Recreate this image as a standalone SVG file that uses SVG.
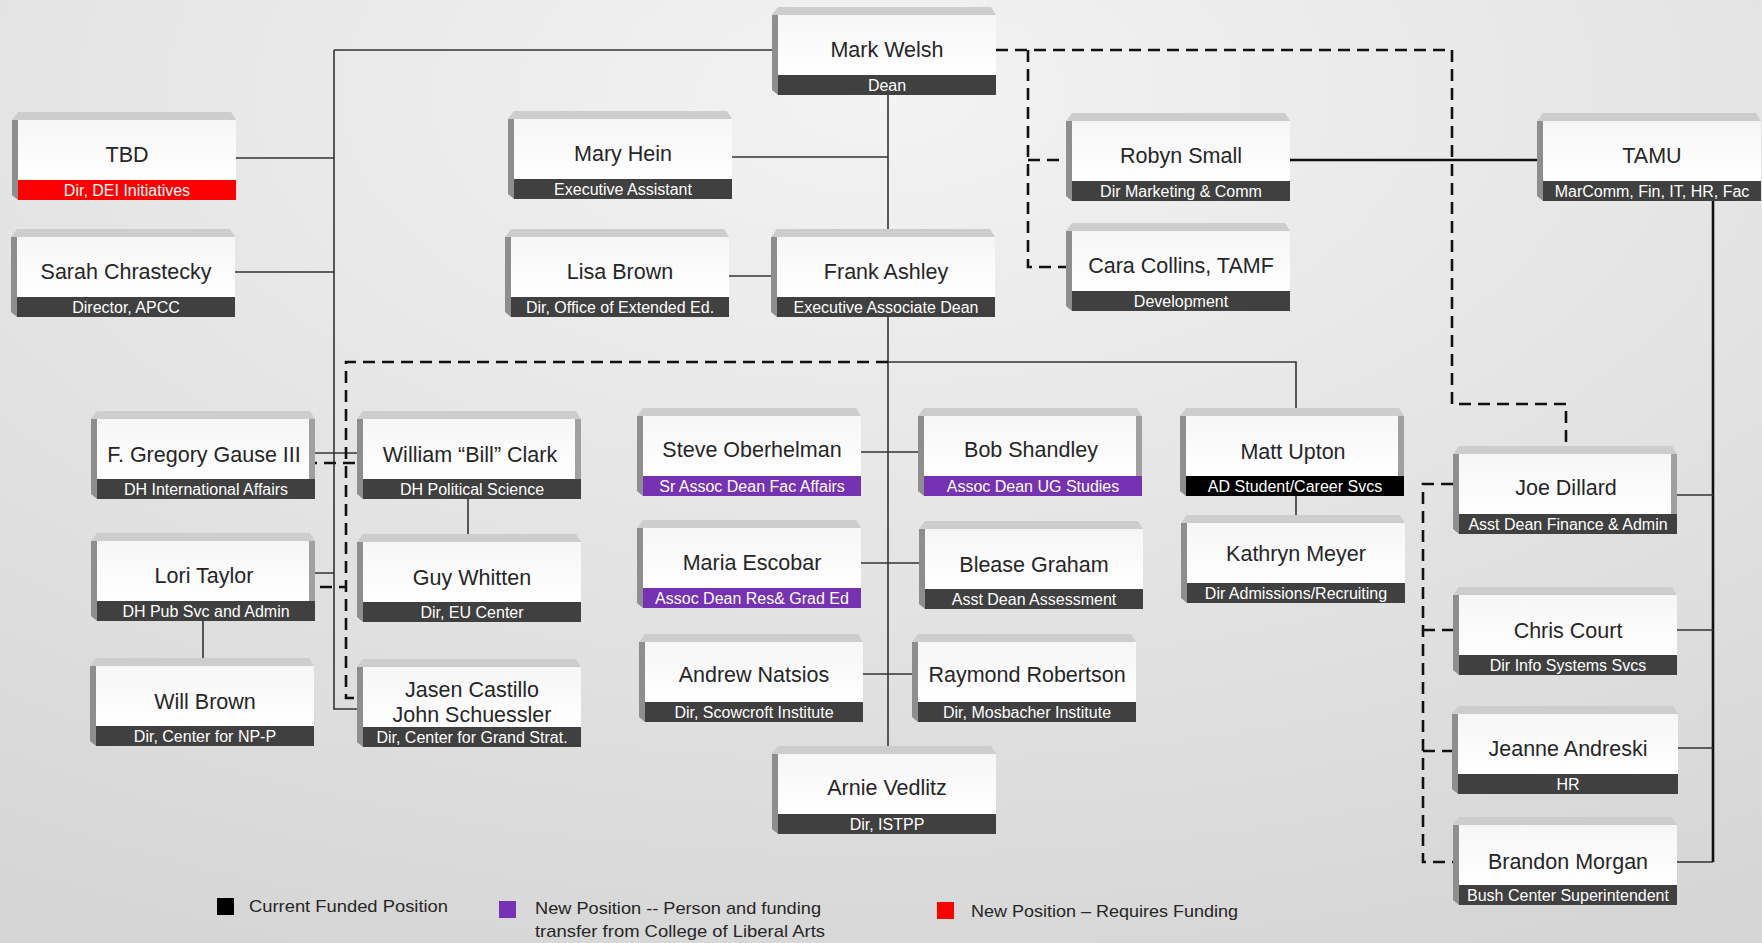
<svg xmlns="http://www.w3.org/2000/svg" width="1762" height="943" viewBox="0 0 1762 943">
<defs>
<radialGradient id="bg" cx="0.5" cy="0.1" r="1.0">
<stop offset="0" stop-color="#f3f3f3"/>
<stop offset="1" stop-color="#d5d5d5"/>
</radialGradient>
<linearGradient id="face" x1="0" y1="0" x2="0" y2="1">
<stop offset="0" stop-color="#f6f6f6"/>
<stop offset="1" stop-color="#ffffff"/>
</linearGradient>
</defs>
<style>
.bt{fill:#cdcdcd}
.bl{fill:#8e8e8e}
.br{fill:#a0a0a0}
.face{fill:url(#face)}
.lab{fill:#404040}
.lab.red{fill:#ff0000}
.lab.pur{fill:#7532b3}
.lab.blk{fill:#000000}
.nm{font-family:"Liberation Sans",Arial,sans-serif;font-size:21.5px;fill:#262626;text-anchor:middle}
.lb{font-family:"Liberation Sans",Arial,sans-serif;font-size:16px;fill:#ffffff;text-anchor:middle}
.lg{font-family:"Liberation Sans",Arial,sans-serif;font-size:17px;fill:#262626}
.s{fill:none;stroke:#333;stroke-width:1.6}
.t{fill:none;stroke:#111;stroke-width:2.6}
.d{fill:none;stroke:#111;stroke-width:2.6;stroke-dasharray:12 7}
</style>
<rect width="1762" height="943" fill="url(#bg)"/>

<g id="connectors">
<path class="s" d="M334 50 H772 M334 50 V709 H357"/>
<path class="s" d="M235 158 H334 M234 272 H334"/>
<path class="s" d="M888 94 V229 M731 157 H888 M729 276 H771"/>
<path class="s" d="M888 317 V746 M888 362 H1296 V408 M1296 496 V515"/>
<path class="s" d="M860 452 H918 M860 563 H919 M861 674 H912"/>
<path class="s" d="M313 453 H357 M314 573 H334 M203 621 V658 M468 499 V534"/>
<path class="t" d="M1289 160 H1537 M1713 201 V862"/>
<path class="s" d="M1674 495 H1713 M1674 630 H1713 M1678 748 H1713 M1674 862 H1713"/>
<path class="d" d="M996 50 H1452 V404 H1566 V447"/>
<path class="d" d="M1028 50 V267 H1066 M1028 160 H1066"/>
<path class="d" d="M888 362 H346 V698 H357"/>
<path class="d" d="M305 463 H357 M301 587 H346"/>
<path class="d" d="M1453 484 H1423 V862 H1453 M1423 630 H1453 M1423 751 H1453"/>
</g>

<g id="n-mark-welsh" transform="translate(772,7)">
<path class="bt" d="M0 8 L6 0 H219 L224 8 Z"/><path class="bl" d="M0 8 L6 8 V88 L0 83 Z"/>
<rect class="face" x="6" y="8" width="218" height="60"/><rect class="lab" x="6" y="68" width="218" height="20"/>
<text class="nm" x="115" y="50">Mark Welsh</text><text class="lb" x="115" y="84">Dean</text>
</g>

<g id="n-tbd" transform="translate(12,112)">
<path class="bt" d="M0 8 L6 0 H219 L224 8 Z"/><path class="bl" d="M0 8 L6 8 V88 L0 83 Z"/>
<rect class="face" x="6" y="8" width="218" height="60"/><rect class="lab red" x="6" y="68" width="218" height="20"/>
<text class="nm" x="115" y="50">TBD</text><text class="lb" x="115" y="84">Dir, DEI Initiatives</text>
</g>

<g id="n-sarah-chrastecky" transform="translate(11,229)">
<path class="bt" d="M0 8 L6 0 H219 L224 8 Z"/><path class="bl" d="M0 8 L6 8 V88 L0 83 Z"/>
<rect class="face" x="6" y="8" width="218" height="60"/><rect class="lab" x="6" y="68" width="218" height="20"/>
<text class="nm" x="115" y="50">Sarah Chrastecky</text><text class="lb" x="115" y="84">Director, APCC</text>
</g>

<g id="n-mary-hein" transform="translate(508,111)">
<path class="bt" d="M0 8 L6 0 H219 L224 8 Z"/><path class="bl" d="M0 8 L6 8 V88 L0 83 Z"/>
<rect class="face" x="6" y="8" width="218" height="60"/><rect class="lab" x="6" y="68" width="218" height="20"/>
<text class="nm" x="115" y="50">Mary Hein</text><text class="lb" x="115" y="84">Executive Assistant</text>
</g>

<g id="n-lisa-brown" transform="translate(505,229)">
<path class="bt" d="M0 8 L6 0 H219 L224 8 Z"/><path class="bl" d="M0 8 L6 8 V88 L0 83 Z"/>
<rect class="face" x="6" y="8" width="218" height="60"/><rect class="lab" x="6" y="68" width="218" height="20"/>
<text class="nm" x="115" y="50">Lisa Brown</text><text class="lb" x="115" y="84">Dir, Office of Extended Ed.</text>
</g>

<g id="n-frank-ashley" transform="translate(771,229)">
<path class="bt" d="M0 8 L6 0 H219 L224 8 Z"/><path class="bl" d="M0 8 L6 8 V88 L0 83 Z"/>
<rect class="face" x="6" y="8" width="218" height="60"/><rect class="lab" x="6" y="68" width="218" height="20"/>
<text class="nm" x="115" y="50">Frank Ashley</text><text class="lb" x="115" y="84">Executive Associate Dean</text>
</g>

<g id="n-robyn-small" transform="translate(1066,113)">
<path class="bt" d="M0 8 L6 0 H219 L224 8 Z"/><path class="bl" d="M0 8 L6 8 V88 L0 83 Z"/>
<rect class="face" x="6" y="8" width="218" height="60"/><rect class="lab" x="6" y="68" width="218" height="20"/>
<text class="nm" x="115" y="50">Robyn Small</text><text class="lb" x="115" y="84">Dir Marketing &amp; Comm</text>
</g>

<g id="n-cara-collins" transform="translate(1066,223)">
<path class="bt" d="M0 8 L6 0 H219 L224 8 Z"/><path class="bl" d="M0 8 L6 8 V88 L0 83 Z"/>
<rect class="face" x="6" y="8" width="218" height="60"/><rect class="lab" x="6" y="68" width="218" height="20"/>
<text class="nm" x="115" y="50">Cara Collins, TAMF</text><text class="lb" x="115" y="84">Development</text>
</g>

<g id="n-tamu" transform="translate(1537,113)">
<path class="bt" d="M0 8 L6 0 H219 L224 8 Z"/><path class="bl" d="M0 8 L6 8 V88 L0 83 Z"/>
<rect class="face" x="6" y="8" width="218" height="60"/><rect class="lab" x="6" y="68" width="218" height="20"/>
<text class="nm" x="115" y="50">TAMU</text><text class="lb" x="115" y="84">MarComm, Fin, IT, HR, Fac</text>
</g>

<g id="n-gregory-gause" transform="translate(91,411)">
<path class="bt" d="M0 8 L6 0 H219 L224 8 Z"/><path class="bl" d="M0 8 L6 8 V88 L0 83 Z"/>
<rect class="face" x="6" y="8" width="218" height="60"/><rect class="br" x="218" y="8" width="6" height="60"/><rect class="lab" x="6" y="68" width="218" height="20"/>
<text class="nm" x="113" y="51">F. Gregory Gause III</text><text class="lb" x="115" y="84">DH International Affairs</text>
</g>

<g id="n-bill-clark" transform="translate(357,411)">
<path class="bt" d="M0 8 L6 0 H219 L224 8 Z"/><path class="bl" d="M0 8 L6 8 V88 L0 83 Z"/>
<rect class="face" x="6" y="8" width="218" height="60"/><rect class="br" x="218" y="8" width="6" height="60"/><rect class="lab" x="6" y="68" width="218" height="20"/>
<text class="nm" x="113" y="51">William “Bill” Clark</text><text class="lb" x="115" y="84">DH Political Science</text>
</g>

<g id="n-lori-taylor" transform="translate(91,533)">
<path class="bt" d="M0 8 L6 0 H219 L224 8 Z"/><path class="bl" d="M0 8 L6 8 V88 L0 83 Z"/>
<rect class="face" x="6" y="8" width="218" height="60"/><rect class="br" x="218" y="8" width="6" height="60"/><rect class="lab" x="6" y="68" width="218" height="20"/>
<text class="nm" x="113" y="50">Lori Taylor</text><text class="lb" x="115" y="84">DH Pub Svc and Admin</text>
</g>

<g id="n-guy-whitten" transform="translate(357,534)">
<path class="bt" d="M0 8 L6 0 H219 L224 8 Z"/><path class="bl" d="M0 8 L6 8 V88 L0 83 Z"/>
<rect class="face" x="6" y="8" width="218" height="60"/><rect class="lab" x="6" y="68" width="218" height="20"/>
<text class="nm" x="115" y="51">Guy Whitten</text><text class="lb" x="115" y="84">Dir, EU Center</text>
</g>

<g id="n-will-brown" transform="translate(90,658)">
<path class="bt" d="M0 8 L6 0 H219 L224 8 Z"/><path class="bl" d="M0 8 L6 8 V88 L0 83 Z"/>
<rect class="face" x="6" y="8" width="218" height="60"/><rect class="lab" x="6" y="68" width="218" height="20"/>
<text class="nm" x="115" y="51">Will Brown</text><text class="lb" x="115" y="84">Dir, Center for NP-P</text>
</g>

<g id="n-jasen-castillo" transform="translate(357,659)">
<path class="bt" d="M0 8 L6 0 H219 L224 8 Z"/><path class="bl" d="M0 8 L6 8 V88 L0 83 Z"/>
<rect class="face" x="6" y="8" width="218" height="60"/><rect class="lab" x="6" y="68" width="218" height="20"/>
<text class="nm" x="115" y="38">Jasen Castillo</text><text class="nm" x="115" y="63">John Schuessler</text><text class="lb" x="115" y="84">Dir, Center for Grand Strat.</text>
</g>

<g id="n-steve-oberhelman" transform="translate(637,408)">
<path class="bt" d="M0 8 L6 0 H219 L224 8 Z"/><path class="bl" d="M0 8 L6 8 V88 L0 83 Z"/>
<rect class="face" x="6" y="8" width="218" height="60"/><rect class="lab pur" x="6" y="68" width="218" height="20"/>
<text class="nm" x="115" y="49">Steve Oberhelman</text><text class="lb" x="115" y="84">Sr Assoc Dean Fac Affairs</text>
</g>

<g id="n-bob-shandley" transform="translate(918,408)">
<path class="bt" d="M0 8 L6 0 H219 L224 8 Z"/><path class="bl" d="M0 8 L6 8 V88 L0 83 Z"/>
<rect class="face" x="6" y="8" width="218" height="60"/><rect class="br" x="218" y="8" width="6" height="60"/><rect class="lab pur" x="6" y="68" width="218" height="20"/>
<text class="nm" x="113" y="49">Bob Shandley</text><text class="lb" x="115" y="84">Assoc Dean UG Studies</text>
</g>

<g id="n-matt-upton" transform="translate(1180,408)">
<path class="bt" d="M0 8 L6 0 H219 L224 8 Z"/><path class="bl" d="M0 8 L6 8 V88 L0 83 Z"/>
<rect class="face" x="6" y="8" width="218" height="60"/><rect class="br" x="218" y="8" width="6" height="60"/><rect class="lab blk" x="6" y="68" width="218" height="20"/>
<text class="nm" x="113" y="51">Matt Upton</text><text class="lb" x="115" y="84">AD Student/Career Svcs</text>
</g>

<g id="n-kathryn-meyer" transform="translate(1181,515)">
<path class="bt" d="M0 8 L6 0 H219 L224 8 Z"/><path class="bl" d="M0 8 L6 8 V88 L0 83 Z"/>
<rect class="face" x="6" y="8" width="218" height="60"/><rect class="lab" x="6" y="68" width="218" height="20"/>
<text class="nm" x="115" y="46">Kathryn Meyer</text><text class="lb" x="115" y="84">Dir Admissions/Recruiting</text>
</g>

<g id="n-maria-escobar" transform="translate(637,520)">
<path class="bt" d="M0 8 L6 0 H219 L224 8 Z"/><path class="bl" d="M0 8 L6 8 V88 L0 83 Z"/>
<rect class="face" x="6" y="8" width="218" height="60"/><rect class="lab pur" x="6" y="68" width="218" height="20"/>
<text class="nm" x="115" y="50">Maria Escobar</text><text class="lb" x="115" y="84">Assoc Dean Res&amp; Grad Ed</text>
</g>

<g id="n-blease-graham" transform="translate(919,521)">
<path class="bt" d="M0 8 L6 0 H219 L224 8 Z"/><path class="bl" d="M0 8 L6 8 V88 L0 83 Z"/>
<rect class="face" x="6" y="8" width="218" height="60"/><rect class="lab" x="6" y="68" width="218" height="20"/>
<text class="nm" x="115" y="51">Blease Graham</text><text class="lb" x="115" y="84">Asst Dean Assessment</text>
</g>

<g id="n-andrew-natsios" transform="translate(639,634)">
<path class="bt" d="M0 8 L6 0 H219 L224 8 Z"/><path class="bl" d="M0 8 L6 8 V88 L0 83 Z"/>
<rect class="face" x="6" y="8" width="218" height="60"/><rect class="lab" x="6" y="68" width="218" height="20"/>
<text class="nm" x="115" y="48">Andrew Natsios</text><text class="lb" x="115" y="84">Dir, Scowcroft Institute</text>
</g>

<g id="n-raymond-robertson" transform="translate(912,634)">
<path class="bt" d="M0 8 L6 0 H219 L224 8 Z"/><path class="bl" d="M0 8 L6 8 V88 L0 83 Z"/>
<rect class="face" x="6" y="8" width="218" height="60"/><rect class="lab" x="6" y="68" width="218" height="20"/>
<text class="nm" x="115" y="48">Raymond Robertson</text><text class="lb" x="115" y="84">Dir, Mosbacher Institute</text>
</g>

<g id="n-arnie-vedlitz" transform="translate(772,746)">
<path class="bt" d="M0 8 L6 0 H219 L224 8 Z"/><path class="bl" d="M0 8 L6 8 V88 L0 83 Z"/>
<rect class="face" x="6" y="8" width="218" height="60"/><rect class="lab" x="6" y="68" width="218" height="20"/>
<text class="nm" x="115" y="49">Arnie Vedlitz</text><text class="lb" x="115" y="84">Dir, ISTPP</text>
</g>

<g id="n-joe-dillard" transform="translate(1453,446)">
<path class="bt" d="M0 8 L6 0 H219 L224 8 Z"/><path class="bl" d="M0 8 L6 8 V88 L0 83 Z"/>
<rect class="face" x="6" y="8" width="218" height="60"/><rect class="br" x="218" y="8" width="6" height="60"/><rect class="lab" x="6" y="68" width="218" height="20"/>
<text class="nm" x="113" y="49">Joe Dillard</text><text class="lb" x="115" y="84">Asst Dean Finance &amp; Admin</text>
</g>

<g id="n-chris-court" transform="translate(1453,587)">
<path class="bt" d="M0 8 L6 0 H219 L224 8 Z"/><path class="bl" d="M0 8 L6 8 V88 L0 83 Z"/>
<rect class="face" x="6" y="8" width="218" height="60"/><rect class="lab" x="6" y="68" width="218" height="20"/>
<text class="nm" x="115" y="51">Chris Court</text><text class="lb" x="115" y="84">Dir Info Systems Svcs</text>
</g>

<g id="n-jeanne-andreski" transform="translate(1452,706)">
<path class="bt" d="M0 8 L6 0 H221 L226 8 Z"/><path class="bl" d="M0 8 L6 8 V88 L0 83 Z"/>
<rect class="face" x="6" y="8" width="220" height="60"/><rect class="lab" x="6" y="68" width="220" height="20"/>
<text class="nm" x="116" y="50">Jeanne Andreski</text><text class="lb" x="116" y="84">HR</text>
</g>

<g id="n-brandon-morgan" transform="translate(1453,817)">
<path class="bt" d="M0 8 L6 0 H219 L224 8 Z"/><path class="bl" d="M0 8 L6 8 V88 L0 83 Z"/>
<rect class="face" x="6" y="8" width="218" height="60"/><rect class="lab" x="6" y="68" width="218" height="20"/>
<text class="nm" x="115" y="52">Brandon Morgan</text><text class="lb" x="115" y="84">Bush Center Superintendent</text>
</g>

<g id="legend">
<rect x="217" y="898" width="17" height="17" fill="#000000"/>
<text class="lg" x="249" y="912" textLength="199" lengthAdjust="spacingAndGlyphs">Current Funded Position</text>
<rect x="499" y="901" width="17" height="17" fill="#7532b3"/>
<text class="lg" x="535" y="914" textLength="286" lengthAdjust="spacingAndGlyphs">New Position -- Person and funding</text>
<text class="lg" x="535" y="937" textLength="290" lengthAdjust="spacingAndGlyphs">transfer from College of Liberal Arts</text>
<rect x="937" y="902" width="17" height="17" fill="#ff0000"/>
<text class="lg" x="971" y="917" textLength="267" lengthAdjust="spacingAndGlyphs">New Position – Requires Funding</text>
</g>
</svg>
